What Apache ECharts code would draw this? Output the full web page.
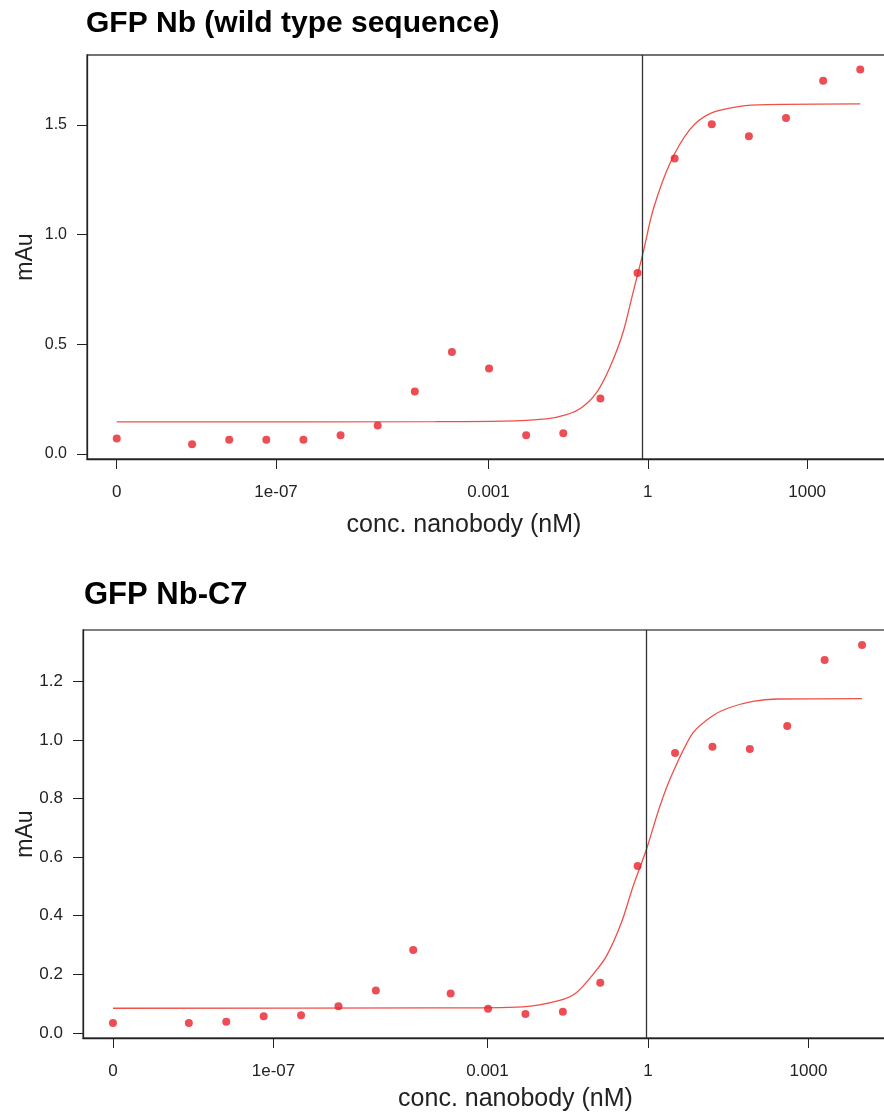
<!DOCTYPE html>
<html lang="en">
<head>
<meta charset="UTF-8">
<title>GFP Nb binding curves</title>
<script src="https://cdn.jsdelivr.net/npm/echarts@6.0.0/dist/echarts.min.js"></script>
<style>
  html, body { margin: 0; padding: 0; background: #fff; overflow: hidden; }
  #chart { width: 884px; height: 1115px; }
</style>
</head>
<body>
<div id="chart"></div>
<script>
// concentration series (nM), 1:5 dilutions, plus the blank (0)
var conc = [0, 2.62144e-9, 1.31072e-8, 6.5536e-8, 3.2768e-7, 1.6384e-6, 8.192e-6, 4.096e-5,
  2.048e-4, 1.024e-3, 5.12e-3, 0.0256, 0.128, 0.64, 3.2, 16, 80, 400, 2000, 10000];

// measured signal (mAu)
var wtValues = [0.070, 0.044, 0.065, 0.065, 0.065, 0.085, 0.130, 0.284, 0.465, 0.389,
  0.085, 0.094, 0.253, 0.825, 1.346, 1.502, 1.448, 1.531, 1.701, 1.752];
var c7Values = [0.034, 0.034, 0.038, 0.057, 0.060, 0.091, 0.145, 0.283, 0.134, 0.082,
  0.064, 0.072, 0.171, 0.570, 0.956, 0.977, 0.969, 1.048, 1.273, 1.324];

// fitted curves (x in log10 nM)
var wtFitLog = [-10, -4, -2.73, -1.91, -1.53, -1.25, -0.97, -0.72, -0.47, -0.28, -0.09, 0.10, 0.42, 0.79, 1.17, 1.74, 2.24, 4];
var wtFitVal = [0.146, 0.147, 0.149, 0.160, 0.179, 0.210, 0.278, 0.392, 0.551, 0.734, 0.916, 1.113, 1.326, 1.478, 1.551, 1.584, 1.592, 1.595];
var c7FitLog = [-10, -4, -2.34, -1.65, -1.34, -1.03, -0.78, -0.50, -0.28, -0.03, 0.22, 0.46, 0.84, 1.21, 1.53, 1.96, 2.40, 4];
var c7FitVal = [0.084, 0.085, 0.089, 0.111, 0.137, 0.199, 0.261, 0.375, 0.500, 0.626, 0.773, 0.887, 1.024, 1.083, 1.111, 1.132, 1.140, 1.141];

// EC50 markers (nM)
var ec50 = [0.79, 0.94];

// axis ticks
var xTickLog = [-10, -7, -3, 0, 3];
var xTickLabels = ['0', '1e-07', '0.001', '1', '1000'];
var yTicksTop = [0, 0.5, 1.0, 1.5];
var yTicksBottom = [0, 0.2, 0.4, 0.6, 0.8, 1.0, 1.2];

var titles = ['GFP Nb (wild type sequence)', 'GFP Nb-C7'];

var ZERO_POS = -10;   // where the blank is drawn on the log axis
function toLog(c) { return c === 0 ? ZERO_POS : Math.log10(c); }
function pairs(xs, ys) { return xs.map(function (x, i) { return [x, ys[i]]; }); }

var FONT = "'Liberation Sans', Arial, sans-serif";
var RED = '#e8222b';
var FIT = '#ee5048';
var INK = '#222';

function xAxisFor(gridIndex, nameGap, namePad) {
  return {
    gridIndex: gridIndex, type: 'value', min: -10.56, max: 4.56,
    name: 'conc. nanobody (nM)', nameLocation: 'middle', nameGap: nameGap,
    nameTextStyle: { fontFamily: FONT, fontSize: 25, color: INK, padding: namePad },
    axisLine: { show: true, onZero: false, lineStyle: { color: INK, width: 1.3 } },
    axisTick: { show: true, length: 10, customValues: xTickLog, lineStyle: { color: INK } },
    axisLabel: {
      customValues: xTickLog, margin: 25, fontFamily: FONT, fontSize: 17, color: INK,
      formatter: function (v) { return xTickLabels[xTickLog.indexOf(v)]; }
    },
    splitLine: { show: false }
  };
}

function yAxisFor(gridIndex, min, max, ticks, labelSize, nameGap) {
  return {
    gridIndex: gridIndex, type: 'value', min: min, max: max,
    name: 'mAu', nameLocation: 'middle', nameGap: nameGap, nameRotate: 90, nameMoveOverlap: false,
    nameTextStyle: { fontFamily: FONT, fontSize: 23, color: INK },
    axisLine: { show: true, onZero: false, lineStyle: { color: INK, width: 1.3 } },
    axisTick: { show: true, length: 10, customValues: ticks, lineStyle: { color: INK } },
    axisLabel: {
      customValues: ticks, margin: 20, fontFamily: FONT, fontSize: labelSize, color: INK,
      formatter: function (v) { return v.toFixed(1); }
    },
    splitLine: { show: false }
  };
}

function pointSeries(idx, values, ec) {
  return {
    type: 'scatter', xAxisIndex: idx, yAxisIndex: idx,
    data: pairs(conc.map(toLog), values),
    symbol: 'circle', symbolSize: 8, itemStyle: { color: RED }, z: 3,
    markLine: {
      silent: true, symbol: 'none', label: { show: false },
      lineStyle: { color: '#333', width: 1.3, type: 'solid' },
      data: [{ xAxis: Math.log10(ec) }]
    }
  };
}

function fitSeries(idx, xs, ys) {
  return {
    type: 'line', xAxisIndex: idx, yAxisIndex: idx,
    data: pairs(xs, ys), showSymbol: false, smooth: 0.3,
    lineStyle: { color: FIT, width: 1.3 }, z: 2
  };
}

var chart = echarts.init(document.getElementById('chart'));
chart.setOption({
  backgroundColor: '#fff',
  animation: false,
  title: [
    { text: titles[0], left: 86, top: 9, padding: 0,
      textStyle: { fontFamily: FONT, fontSize: 30, fontWeight: 'bold', color: '#000' } },
    { text: titles[1], left: 84, top: 580, padding: 0,
      textStyle: { fontFamily: FONT, fontSize: 31, fontWeight: 'bold', color: '#000' } }
  ],
  grid: [
    { left: 87, top: 55, width: 803, height: 404, show: true, borderColor: '#444', borderWidth: 1.3,
      containLabel: false, outerBoundsMode: 'none' },
    { left: 83, top: 630, width: 809, height: 408, show: true, borderColor: '#555', borderWidth: 1.3,
      containLabel: false, outerBoundsMode: 'none' }
  ],
  xAxis: [xAxisFor(0, 54, [0, 49, 0, 0]), xAxisFor(1, 49, [0, 0, 0, 56])],
  yAxis: [yAxisFor(0, -0.0232, 1.818, yTicksTop, 16, 50), yAxisFor(1, -0.0176, 1.3756, yTicksBottom, 17, 46)],
  series: [
    fitSeries(0, wtFitLog, wtFitVal),
    pointSeries(0, wtValues, ec50[0]),
    fitSeries(1, c7FitLog, c7FitVal),
    pointSeries(1, c7Values, ec50[1])
  ]
});
</script>
</body>
</html>
